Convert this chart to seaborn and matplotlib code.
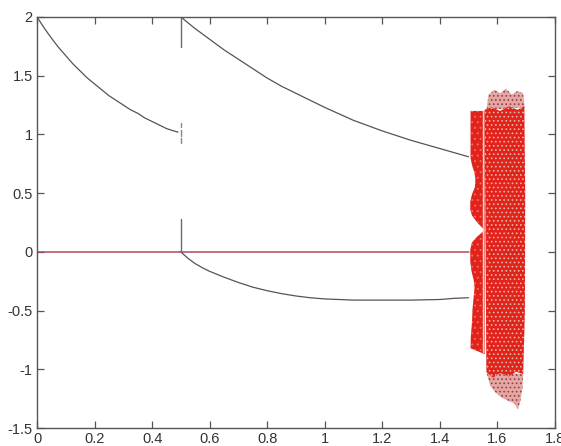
import numpy as np
import pandas as pd
import matplotlib
matplotlib.use("Agg")
import matplotlib.pyplot as plt
import seaborn as sns

# ---- data ----
# branch 1 (x 0..0.5), upper
b1_x = [0.0, 0.025, 0.05, 0.075, 0.1, 0.125, 0.15, 0.175, 0.2, 0.225, 0.25,
        0.275, 0.3, 0.325, 0.35, 0.375, 0.4, 0.425, 0.45, 0.475, 0.49]
b1_y = [2.0, 1.905, 1.82, 1.74, 1.67, 1.60, 1.54, 1.48, 1.43, 1.38, 1.33,
        1.29, 1.25, 1.21, 1.18, 1.14, 1.11, 1.08, 1.05, 1.03, 1.02]
# branch 2 (x 0.5..1.5), upper
b2_x = [0.5, 0.55, 0.6, 0.65, 0.7, 0.75, 0.8, 0.85, 0.9, 0.95, 1.0,
        1.05, 1.1, 1.15, 1.2, 1.25, 1.3, 1.35, 1.4, 1.45, 1.5]
b2_y = [2.0, 1.90, 1.81, 1.72, 1.64, 1.56, 1.48, 1.41, 1.35, 1.29, 1.23,
        1.175, 1.12, 1.075, 1.03, 0.99, 0.95, 0.915, 0.88, 0.845, 0.81]
# branch 3 (x 0.5..1.5), lower
b3_x = [0.5, 0.525, 0.55, 0.575, 0.6, 0.65, 0.7, 0.75, 0.8, 0.85, 0.9, 0.95,
        1.0, 1.05, 1.1, 1.2, 1.3, 1.4, 1.45, 1.5]
b3_y = [0.0, -0.055, -0.10, -0.135, -0.165, -0.215, -0.26, -0.30, -0.33, -0.355,
        -0.375, -0.39, -0.40, -0.405, -0.41, -0.41, -0.41, -0.405, -0.395, -0.39]
# zero branch
b0_x = [0.0, 1.5]
b0_y = [0.0, 0.0]
# vertical segments at x = 0.5
v_x = 0.5
v_top = [1.74, 2.0]
v_mid = [[0.93, 0.97], [0.99, 1.04], [1.06, 1.10]]
v_low = [0.0, 0.28]

# chaotic region: left dense block outline
blk_x = [1.507, 1.556, 1.556, 1.507, 1.508, 1.512, 1.514, 1.518, 1.521, 1.518,
         1.510, 1.506, 1.506, 1.512, 1.530, 1.556, 1.530, 1.512, 1.506, 1.506,
         1.512, 1.522, 1.524, 1.520, 1.512, 1.507]
blk_y = [1.20, 1.20, -0.87, -0.82, -0.72, -0.60, -0.48, -0.38, -0.30, -0.24,
         -0.16, -0.08, 0.02, 0.08, 0.13, 0.185, 0.25, 0.31, 0.36, 0.43,
         0.49, 0.55, 0.62, 0.68, 0.74, 0.80]
# wide dense band
wid_x = [1.556, 1.580, 1.610, 1.640, 1.670, 1.694, 1.697, 1.696, 1.690, 1.665,
         1.640, 1.610, 1.585, 1.562]
wid_y = [1.21, 1.23, 1.20, 1.24, 1.21, 1.24, 0.50, -0.50, -1.04, -1.02,
         -1.06, -1.03, -1.07, -1.02]
# sparse top cap
cap_t_x = [1.562, 1.570, 1.590, 1.610, 1.630, 1.650, 1.670, 1.690, 1.695, 1.562]
cap_t_y = [1.21, 1.34, 1.38, 1.35, 1.39, 1.34, 1.37, 1.35, 1.23, 1.21]
# sparse bottom cap
cap_b_x = [1.562, 1.690, 1.688, 1.680, 1.672, 1.660, 1.640, 1.615, 1.595, 1.575]
cap_b_y = [-1.02, -1.04, -1.15, -1.27, -1.34, -1.29, -1.27, -1.24, -1.20, -1.14]
# white line inside chaotic block
wl_x = 1.549
wl_y = [-0.85, 1.20]

xticks = [0, 0.2, 0.4, 0.6, 0.8, 1.0, 1.2, 1.4, 1.6, 1.8]
xtlabels = ["0", "0.2", "0.4", "0.6", "0.8", "1", "1.2", "1.4", "1.6", "1.8"]
yticks = [-1.5, -1.0, -0.5, 0, 0.5, 1.0, 1.5, 2.0]
ytlabels = ["-1.5", "-1", "-0.5", "0", "0.5", "1", "1.5", "2"]

# ---- drawing ----
sns.set_style("ticks")
plt.rcParams["font.family"] = ["Liberation Sans", "DejaVu Sans"]
plt.rcParams["hatch.linewidth"] = 0.7

fig = plt.figure(figsize=(5.61, 4.46), dpi=100)
ax = fig.add_axes([0.066, 0.040, 0.923, 0.922])

curve_col = "#5e4e5c"
zero_col = "#b0485a"
red = "#e4221c"
speck = "#dcb8a6"

# chaotic region
ax.fill(cap_t_x, cap_t_y, facecolor="#e4a8a4", edgecolor="#9a3a48", hatch="....", linewidth=0, zorder=1)
ax.fill(cap_b_x, cap_b_y, facecolor="#e4a8a4", edgecolor="#9a3a48", hatch="....", linewidth=0, zorder=1)
ax.fill(wid_x, wid_y, facecolor=red, edgecolor=speck, hatch="....", linewidth=0, zorder=2)
ax.fill(blk_x, blk_y, facecolor=red, edgecolor="#e87060", hatch="...", linewidth=0, zorder=2)
ax.plot([wl_x, wl_x], wl_y, color="#f2d0c6", lw=1.0, zorder=3)

df0 = pd.DataFrame({"x": b0_x, "y": b0_y})
df1 = pd.DataFrame({"x": b1_x, "y": b1_y})
df2 = pd.DataFrame({"x": b2_x, "y": b2_y})
df3 = pd.DataFrame({"x": b3_x, "y": b3_y})

sns.lineplot(data=df0, x="x", y="y", color=zero_col, lw=1.1, ax=ax, sort=False)
sns.lineplot(data=df1, x="x", y="y", color=curve_col, lw=0.9, ax=ax, sort=False)
sns.lineplot(data=df2, x="x", y="y", color=curve_col, lw=0.9, ax=ax, sort=False)
sns.lineplot(data=df3, x="x", y="y", color=curve_col, lw=0.9, ax=ax, sort=False)

ax.plot([v_x, v_x], v_top, color="#6e6670", lw=1.0)
for seg in v_mid:
    ax.plot([v_x, v_x], seg, color="#8a8490", lw=1.0)
ax.plot([v_x, v_x], v_low, color="#6e6670", lw=1.0)

ax.set_xlim(0, 1.8)
ax.set_ylim(-1.5, 2.0)
ax.set_xticks(xticks)
ax.set_xticklabels(xtlabels)
ax.set_yticks(yticks)
ax.set_yticklabels(ytlabels)
ax.set_xlabel("")
ax.set_ylabel("")
ax.tick_params(direction="in", length=5, width=0.9, top=True, right=True,
               colors="#555555", labelcolor="#333333", labelsize=10.5, pad=3)
for s in ax.spines.values():
    s.set_color("#555555")
    s.set_linewidth(1.0)
    s.set_visible(True)

fig.savefig("out.png", dpi=100)
